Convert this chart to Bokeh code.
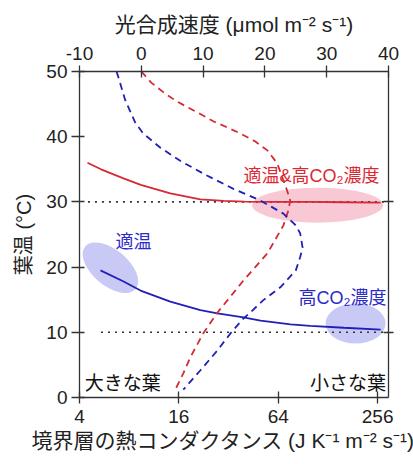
from bokeh.plotting import figure
from bokeh.models import Range1d, LinearAxis, FixedTicker, PrintfTickFormatter, Label, LinearScale, Title
from bokeh.embed import file_html
from bokeh.resources import INLINE

# ---- data ----
# solid lines: leaf temperature vs boundary-layer conductance (bottom log axis)
red_solid_g = [4.47, 5.4, 7.39, 9.4, 14.2, 21.6, 30, 40, 60, 100, 160, 267]
red_solid_T = [36.0, 35.0, 33.6, 32.6, 31.3, 30.4, 30.15, 30.05, 30.0, 30.0, 29.95, 29.9]
blue_solid_g = [5.36, 7.4, 9.37, 14.2, 21.6, 27.4, 39.4, 50, 76, 100, 160, 267]
blue_solid_T = [19.5, 17.8, 16.4, 14.7, 13.4, 12.9, 12.3, 11.8, 11.2, 11.0, 10.7, 10.4]

# dashed lines: leaf temperature vs photosynthetic rate (top axis)
red_dash_P = [0.0, 1.6, 3.6, 5.6, 7.5, 9.7, 11.8, 14.2, 16.0, 18.4, 20.4, 22.0, 23.6, 24.1, 23.8,
              23.0, 20.4, 16.5, 12.3, 10.0, 7.9, 6.8, 5.5]
red_dash_T = [50.0, 48.3, 46.8, 45.5, 44.5, 43.4, 42.3, 41.3, 40.5, 39.3, 37.9, 35.9, 31.7, 30.2, 28.7,
              26.4, 22.1, 17.9, 13.0, 9.8, 6.1, 3.7, 1.2]
blue_dash_P = [-4.0, -3.7, -2.6, -1.0, 0.3, 3.1, 6.3, 10.3, 14.9, 19.3, 23.0, 25.0, 25.7, 26.1,
               25.7, 25.0, 22.5, 19.7, 17.6, 16.5, 14.4, 12.3, 9.5, 6.8]
blue_dash_T = [50.0, 49.1, 45.6, 42.2, 40.5, 38.3, 36.3, 34.2, 32.0, 30.2, 28.2, 26.4, 25.2, 23.0,
               21.5, 19.5, 16.9, 14.9, 13.0, 12.1, 9.8, 7.2, 4.1, 1.2]

# reference temperatures (dotted)
ref_T = [30, 10]
ref_g_start = [4.5, 5.4]
ref_g_end = [298, 298]

# highlight ellipses
ell_g = [6.16, 110.9, 188.3]
ell_T = [19.9, 29.5, 11.35]
ell_w = [66, 131, 60]
ell_h = [36, 35, 40]
ell_angle = [-0.7, 0.0, 0.0]
ell_color = ["#c6c6f4", "#f8c6d3", "#c6c6f4"]

# ticks
bottom_ticks = [4, 16, 64, 256]
top_ticks = [-10, 0, 10, 20, 30, 40]
left_ticks = [0, 10, 20, 30, 40, 50]

# labels
labels = ["適温&高CO₂濃度", "適温", "高CO₂濃度", "大きな葉", "小さな葉"]
label_g = [39.4, 6.6, 84.9, 4.3, 288]
label_T = [34.0, 23.85, 15.3, 2.2, 2.1]
label_color = ["#dc2832", "#2a2ac8", "#2a2ac8", "#111111", "#111111"]
label_align = ["left", "left", "left", "left", "right"]
label_size = ["18px", "18px", "18px", "19px", "19px"]

bottom_title = "境界層の熱コンダクタンス (J K⁻¹ m⁻² s⁻¹)"
top_title = "光合成速度 (μmol m⁻² s⁻¹)"
left_title = "葉温 (°C)"

FONT = "Liberation Sans, Noto Sans CJK JP"
RED = "#d42a33"
BLUE = "#2020b8"
AX = "#333333"

p = figure(width=413, height=464, output_backend="svg", toolbar_location=None,
           x_axis_type="log", x_range=Range1d(4, 298), y_range=Range1d(0, 50),
           min_border_left=79, min_border_right=25, min_border_top=71, min_border_bottom=67)
p.extra_x_ranges = {"top": Range1d(-10, 40)}
p.extra_x_scales = {"top": LinearScale()}
p.xgrid.visible = False
p.ygrid.visible = False
p.outline_line_color = None
p.background_fill_color = "white"
p.border_fill_color = "white"

def style_axis(ax, tin, tout):
    ax.axis_line_color = AX
    ax.axis_line_width = 1.3
    ax.major_tick_line_color = AX
    ax.major_tick_line_width = 1.3
    ax.major_tick_in = tin
    ax.major_tick_out = tout
    ax.minor_tick_line_color = None
    ax.major_label_text_font = FONT
    ax.major_label_text_font_size = "19px"
    ax.major_label_text_color = "#222222"
    ax.axis_label_text_font = FONT
    ax.axis_label_text_font_size = "20px"
    ax.axis_label_text_font_style = "normal"
    ax.axis_label_text_color = "#222222"

# bottom axis (its title is a Title below so it can sit off-centre like the original)
xb = p.xaxis[0]
xb.ticker = FixedTicker(ticks=bottom_ticks)
xb.formatter = PrintfTickFormatter(format="%d")
style_axis(xb, 6, 6)
xb.major_label_standoff = 6

# left axis
yl = p.yaxis[0]
yl.ticker = FixedTicker(ticks=left_ticks)
yl.axis_label = left_title
style_axis(yl, 5, 8)
yl.major_label_standoff = 4
yl.axis_label_standoff = 8

# top axis
xt = LinearAxis(x_range_name="top", ticker=FixedTicker(ticks=top_ticks),
                axis_label=top_title,
                major_label_overrides={-10: "-10"})
style_axis(xt, 6, 6)
xt.axis_label_text_font_size = "21px"
xt.major_label_standoff = 6
xt.axis_label_standoff = 8
p.add_layout(xt, "above")

# right axis (no labels)
yr = LinearAxis(ticker=FixedTicker(ticks=[10, 30]))
style_axis(yr, 5, 5)
yr.major_label_text_font_size = "0px"
yr.major_label_text_color = None
p.add_layout(yr, "right")

# bottom axis title
p.add_layout(Title(text=bottom_title, align="left", offset=-48, standoff=3,
                   text_font=FONT, text_font_size="21px", text_font_style="normal",
                   text_color="#222222"), "below")

# ellipses
p.ellipse(x=ell_g, y=ell_T, width=ell_w, height=ell_h, angle=ell_angle,
          width_units="screen", height_units="screen",
          fill_color=ell_color, line_color=None, fill_alpha=0.95)

# dotted reference lines
p.segment(x0=ref_g_start, y0=ref_T, x1=ref_g_end, y1=ref_T,
          line_color="#333333", line_width=1.6, line_dash="2 5")

# solid lines
p.line(red_solid_g, red_solid_T, line_color=RED, line_width=1.8)
p.line(blue_solid_g, blue_solid_T, line_color=BLUE, line_width=1.8)

# dashed lines (top axis)
p.line(red_dash_P, red_dash_T, x_range_name="top", line_color=RED, line_width=1.8,
       line_dash="7 5")
p.line(blue_dash_P, blue_dash_T, x_range_name="top", line_color=BLUE, line_width=1.8,
       line_dash="7 5")

for t, gx, ty, c, al, fs in zip(labels, label_g, label_T, label_color, label_align, label_size):
    p.add_layout(Label(x=gx, y=ty, text=t, text_color=c, text_font=FONT,
                       text_font_size=fs, text_align=al, text_baseline="middle"))

open("out.html", "w").write(file_html(p, INLINE))
